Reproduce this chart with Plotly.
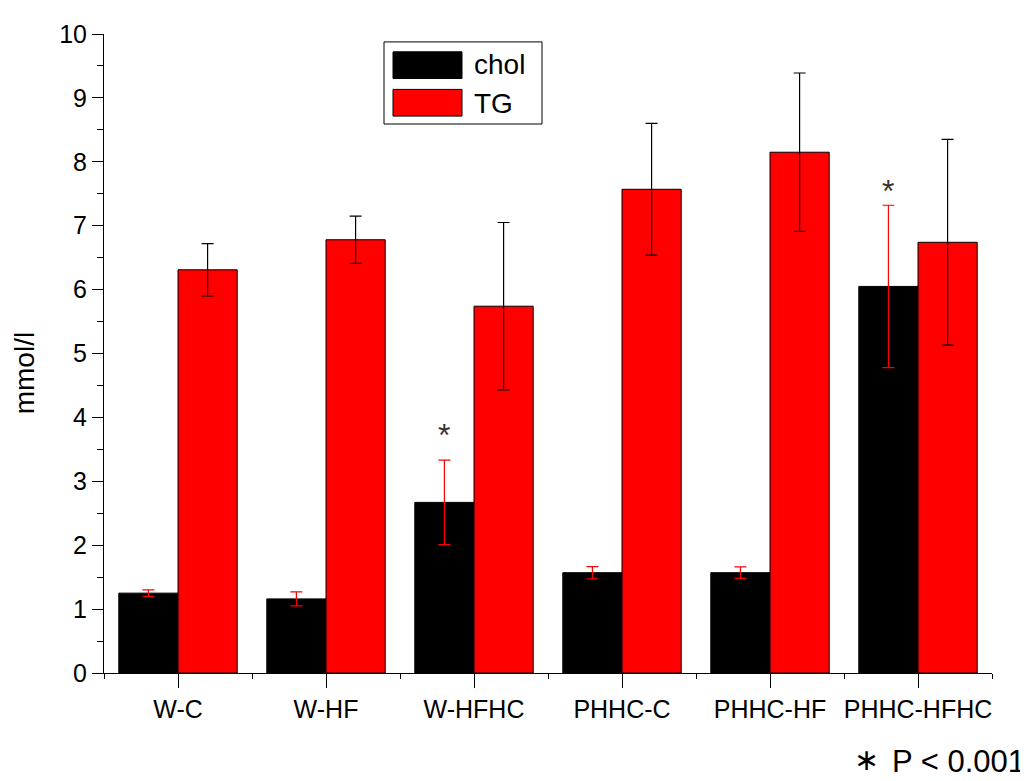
import plotly.graph_objects as go

categories = ["W-C", "W-HF", "W-HFHC", "PHHC-C", "PHHC-HF", "PHHC-HFHC"]
chol = [1.25, 1.16, 2.67, 1.57, 1.57, 6.05]
chol_err = [0.05, 0.11, 0.66, 0.095, 0.09, 1.27]
tg = [6.31, 6.78, 5.74, 7.57, 8.15, 6.74]
tg_err = [0.41, 0.37, 1.31, 1.03, 1.24, 1.61]
y_ticks = list(range(0, 11))
significant = [(2, 3.72), (5, 7.55)]  # (category index, asterisk height) for chol bars

xpos = list(range(len(categories)))
FONT = "Liberation Sans, Arial, sans-serif"

fig = go.Figure()
fig.add_trace(go.Bar(
    x=xpos, y=chol, name="chol",
    marker=dict(color="#000000", line=dict(color="#000000", width=1)),
    error_y=dict(type="data", array=chol_err, visible=True, color="#ff0000", thickness=1.2, width=6),
))
fig.add_trace(go.Bar(
    x=xpos, y=tg, name="TG",
    marker=dict(color="#ff0000", line=dict(color="#000000", width=1)),
    error_y=dict(type="data", array=tg_err, visible=True, color="#000000", thickness=1.2, width=6),
))

# paper coords helper (plot area spans 104..992 x, 27..673 y in page pixels)
def px(x):
    return (x - 104) / 888

def py(y):
    return (673 - y) / 646

shapes = [
    dict(type="rect", xref="paper", yref="paper", x0=px(384), x1=px(542), y0=py(118), y1=py(35),
         line=dict(color="#000000", width=1), fillcolor="white", layer="above"),
    dict(type="rect", xref="paper", yref="paper", x0=px(393), x1=px(462), y0=py(72), y1=py(45),
         line=dict(color="#000000", width=1), fillcolor="#000000", layer="above"),
    dict(type="rect", xref="paper", yref="paper", x0=px(393), x1=px(462), y0=py(110), y1=py(83),
         line=dict(color="#000000", width=1), fillcolor="#ff0000", layer="above"),
]

annotations = [
    dict(xref="paper", yref="paper", x=px(472), y=py(58), text="chol", showarrow=False,
         xanchor="left", yanchor="middle", font=dict(family=FONT, size=28, color="black")),
    dict(xref="paper", yref="paper", x=px(472), y=py(97), text="TG", showarrow=False,
         xanchor="left", yanchor="middle", font=dict(family=FONT, size=28, color="black")),
    dict(xref="paper", yref="paper", x=px(1027), y=py(762), text="P < 0.001", showarrow=False,
         xanchor="right", yanchor="middle", font=dict(family=FONT, size=31, color="black")),
    dict(xref="paper", yref="paper", x=px(866), y=py(760), text="\u2217", showarrow=False,
         xanchor="center", yanchor="middle", font=dict(family=FONT, size=30, color="black")),
    dict(xref="paper", yref="paper", x=px(24), y=py(370), text="mmol/l", showarrow=False,
         textangle=-90, xanchor="center", yanchor="middle",
         font=dict(family=FONT, size=28, color="black")),
]
for idx, h in significant:
    annotations.append(dict(x=idx - 0.2, y=h, xref="x", yref="y", text="*", showarrow=False,
                            xanchor="center", yanchor="middle",
                            font=dict(family=FONT, size=32, color="#333333")))

fig.update_layout(
    width=1020, height=773,
    margin=dict(l=96, r=36, t=19, b=108),
    paper_bgcolor="white", plot_bgcolor="white",
    barmode="group", bargap=0.2, bargroupgap=0,
    showlegend=False,
    shapes=shapes, annotations=annotations,
    font=dict(family=FONT, color="black"),
    xaxis=dict(
        range=[-0.5, 5.5], tickmode="array", tickvals=xpos, ticktext=categories,
        showgrid=False, zeroline=False, showline=True, linecolor="black", linewidth=1,
        ticks="outside", ticklen=14, tickwidth=1, tickcolor="black",
        tickfont=dict(family=FONT, size=25, color="black"),
        minor=dict(tickmode="linear", tick0=0.5, dtick=1, ticks="outside", ticklen=5,
                   tickwidth=1, tickcolor="black", showgrid=False),
    ),
    yaxis=dict(
        range=[0, 10], tickmode="array", tickvals=y_ticks,
        showgrid=False, zeroline=False, showline=True, linecolor="black", linewidth=1,
        ticks="outside", ticklen=11, tickwidth=1, tickcolor="black",
        tickfont=dict(family=FONT, size=25, color="black"),
        minor=dict(tickmode="linear", tick0=0.5, dtick=1, ticks="outside", ticklen=6,
                   tickwidth=1, tickcolor="black", showgrid=False),
    ),
)

fig.write_html("out.html")
